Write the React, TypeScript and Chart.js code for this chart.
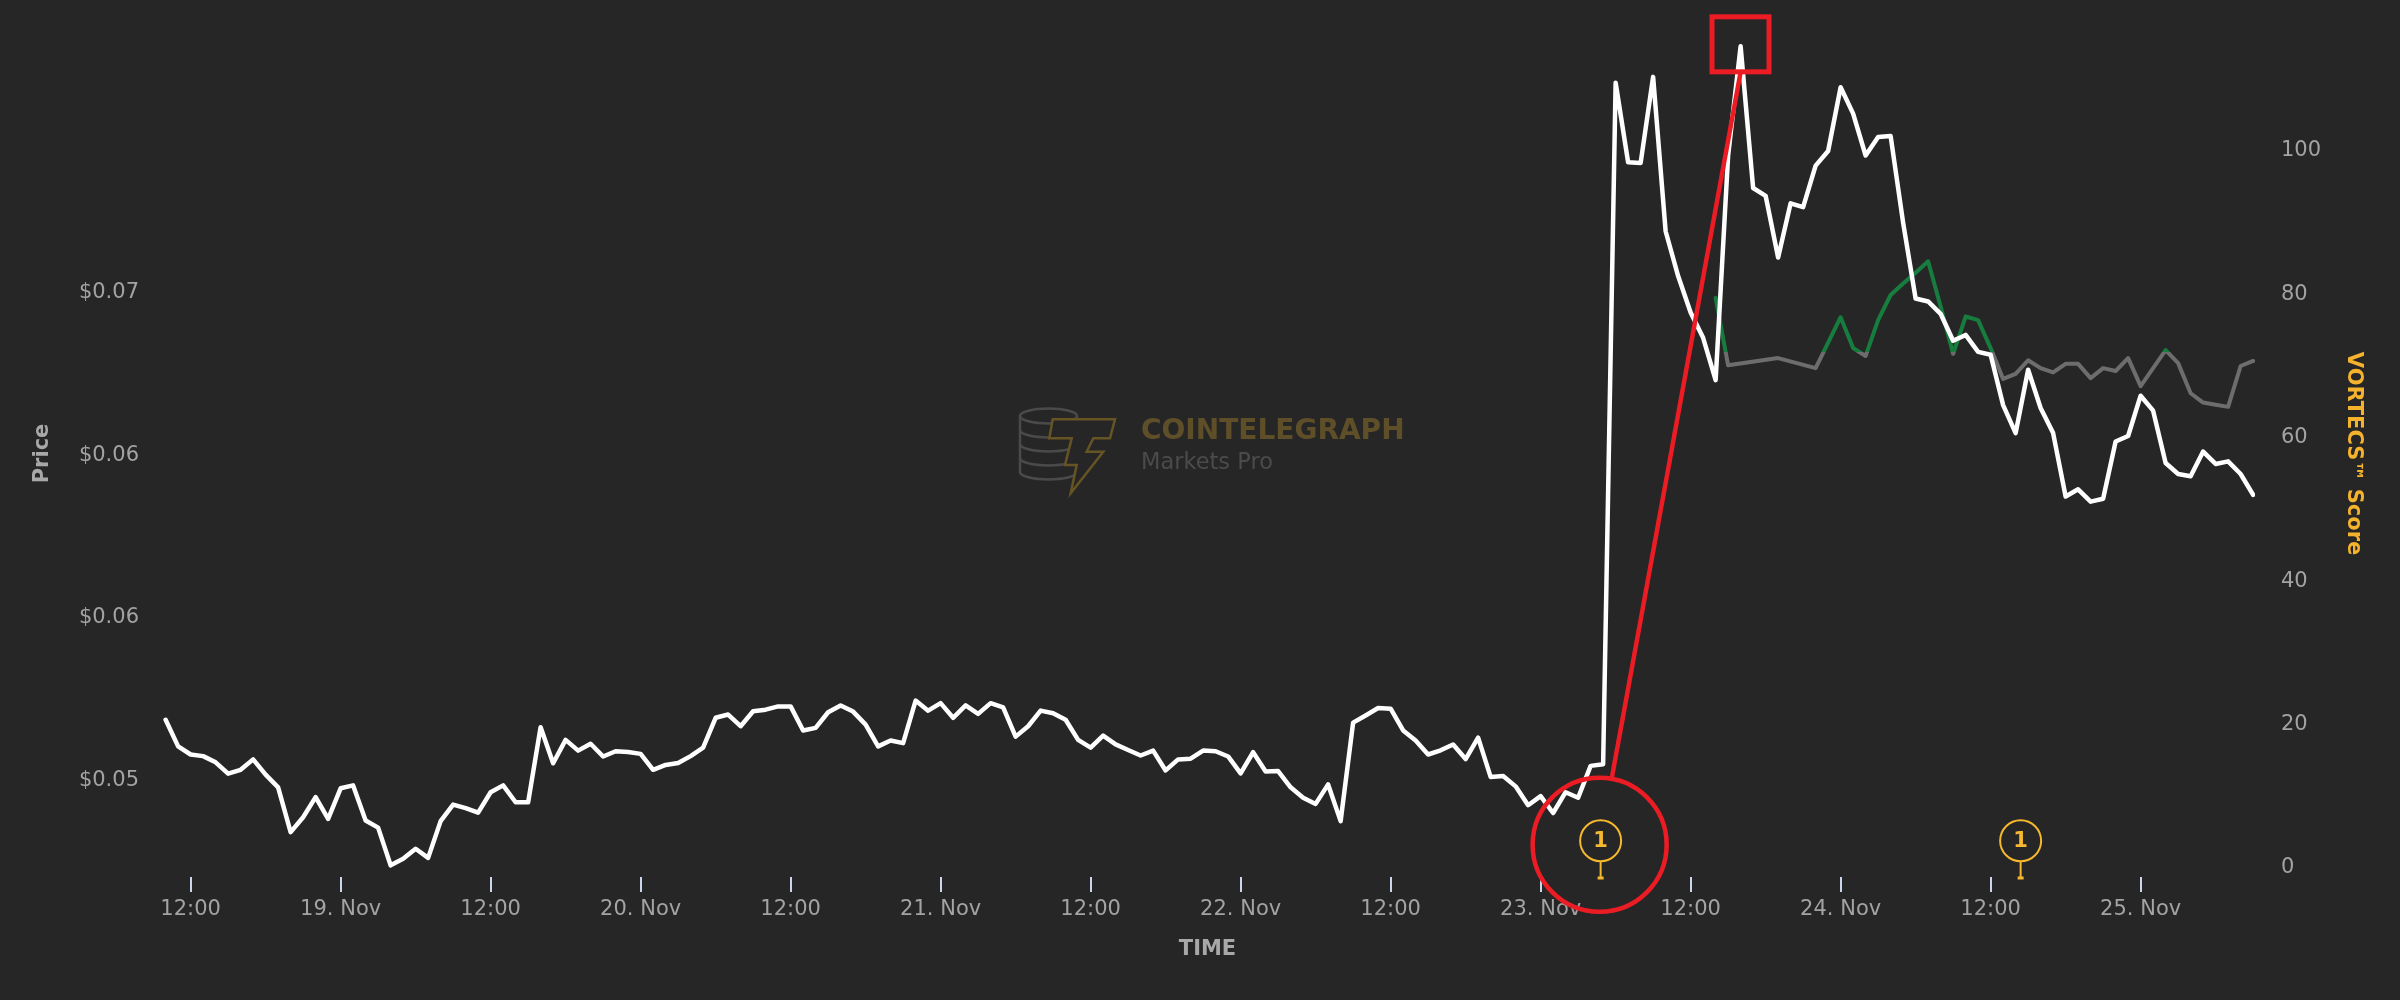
import { useEffect, useRef } from "react";
import { Chart, registerables } from "chart.js";

Chart.register(...registerables);

// ---------- data ----------
// hourly price points, first point at 18 Nov 10:00 (hours counted from 18 Nov 00:00)
const PRICE_START_HOUR = 10;
const PRICE = [
  0.05187, 0.05105, 0.0508, 0.05075, 0.05056, 0.05021, 0.05033, 0.05065, 0.05018, 0.04979,
  0.04841, 0.04887, 0.04949, 0.04882, 0.04976, 0.04985, 0.04877, 0.04855, 0.04739, 0.04759,
  0.0479, 0.04762, 0.04875, 0.04926, 0.04915, 0.04901, 0.04964, 0.04985, 0.04933, 0.04933,
  0.05164, 0.05053, 0.05125, 0.05092, 0.05113, 0.05074, 0.0509, 0.05088, 0.05082, 0.05033,
  0.05048, 0.05054, 0.05075, 0.05101, 0.05193, 0.05203, 0.05167, 0.05213, 0.05218, 0.05228,
  0.05228, 0.05154, 0.05162, 0.0521, 0.05231, 0.05212, 0.05172, 0.05105, 0.05123, 0.05115,
  0.05246, 0.05215, 0.05238, 0.05193, 0.05231, 0.05205, 0.05238, 0.05225, 0.05135, 0.05167,
  0.05215, 0.05207, 0.05187, 0.05125, 0.05101, 0.05138, 0.05111, 0.05094, 0.05077, 0.05092,
  0.05031, 0.05065, 0.05067, 0.05092, 0.0509, 0.05074, 0.05022, 0.05087, 0.05028, 0.05029,
  0.04979, 0.04947, 0.04928, 0.04988, 0.04875, 0.05178, 0.052, 0.05223, 0.05221, 0.05154,
  0.05123, 0.0508, 0.05093, 0.05111, 0.05066, 0.05132, 0.05011, 0.05014, 0.04982, 0.04924,
  0.04952, 0.049, 0.04964, 0.04947, 0.05045, 0.0505, 0.07147, 0.06902, 0.069, 0.07165,
  0.0669, 0.06552, 0.0644, 0.06362, 0.06232, 0.06923, 0.07259, 0.06823, 0.06799, 0.06609,
  0.06776, 0.06764, 0.06892, 0.06937, 0.07133, 0.07052, 0.06923, 0.0698, 0.06983, 0.06716,
  0.06483, 0.06474, 0.06436, 0.06353, 0.06371, 0.06319, 0.0631, 0.06155, 0.06069, 0.06264,
  0.06146, 0.06069, 0.05874, 0.05896, 0.05858, 0.05867, 0.06043, 0.0606, 0.06184, 0.06138,
  0.05977, 0.05943, 0.05936, 0.06012, 0.05974, 0.05982, 0.05943, 0.05879,
];

// VORTECS score (hours from 18 Nov 00:00)
const SCORE_HOURS = [
  134, 135, 139, 142, 144, 145, 146, 147, 148, 149, 150, 151, 152, 153, 154, 155, 156, 157, 158,
  159, 160, 161, 162, 163, 164, 165, 166, 167, 168, 169, 170, 171, 172, 173, 174, 175, 176, 177,
];
const SCORE = [
  79.5, 70.1, 71.1, 69.7, 76.8, 72.5, 71.4, 76.4, 79.9, 81.5, 83.0, 84.6, 78.3, 71.7, 76.9, 76.4,
  72.5, 68.2, 68.9, 70.8, 69.7, 69.1, 70.3, 70.3, 68.3, 69.7, 69.3, 71.1, 67.2, 69.7, 72.2, 70.4,
  66.2, 64.9, 64.6, 64.3, 70.0, 70.7,
];
const SCORE_THRESHOLD = 72;

// event flags
const FLAG_HOURS = [124.8, 158.4];
const FLAG_LABELS = ["1", "1"];

// axes
const X_TICK_HOURS = [12, 24, 36, 48, 60, 72, 84, 96, 108, 120, 132, 144, 156, 168];
const X_TICK_LABELS = [
  "12:00", "19. Nov", "12:00", "20. Nov", "12:00", "21. Nov", "12:00",
  "22. Nov", "12:00", "23. Nov", "12:00", "24. Nov", "12:00", "25. Nov",
];
const PRICE_TICKS = [0.05, 0.055, 0.06, 0.065];
const PRICE_TICK_LABELS = ["$0.05", "$0.06", "$0.06", "$0.07"];
const SCORE_TICKS = [0, 20, 40, 60, 80, 100];

const X_MIN = 9.55;
const X_MAX = 177.15;
const PRICE_MIN = 0.047031;
const PRICE_MAX = 0.073092;
const SCORE_MIN = -1.27;
const SCORE_MAX = 116.86;

// ---------- style ----------
const BG = "#262626";
const FONT = "'DejaVu Sans', sans-serif";
const LABEL_COLOR = "#a3a3a3";
const TITLE_COLOR = "#a8a8a8";
const VORTECS_COLOR = "#f5b22c";
const GREEN = "#177d3e";
const GRAY = "#6d6d6d";
const FLAG_COLOR = "#f5b82e";
const RED = "#ec1c24";

const bgPlugin = {
  id: "bg",
  beforeDraw(chart: any) {
    const { ctx, width, height } = chart;
    ctx.save();
    ctx.fillStyle = BG;
    ctx.fillRect(0, 0, width, height);
    ctx.restore();
  },
};

const watermarkPlugin = {
  id: "watermark",
  beforeDatasetsDraw(chart: any) {
    const { ctx, chartArea } = chart;
    const cx = (chartArea.left + chartArea.right) / 2;
    const cy = (chartArea.top + chartArea.bottom) / 2;
    ctx.save();
    ctx.translate(cx, cy);
    // coin stack
    ctx.strokeStyle = "#4a4a4a";
    ctx.lineWidth = 2.5;
    const ccx = -159;
    const rx = 28.5;
    const ry = 7.5;
    ctx.beginPath();
    ctx.ellipse(ccx, -37.5, rx, ry, 0, 0, Math.PI * 2);
    ctx.stroke();
    [-23.5, -9.5, 4.5, 18.5].forEach((yy) => {
      ctx.beginPath();
      ctx.ellipse(ccx, yy, rx, ry, 0, 0, Math.PI);
      ctx.stroke();
    });
    ctx.beginPath();
    ctx.moveTo(ccx - rx, -37.5);
    ctx.lineTo(ccx - rx, 18.5);
    ctx.moveTo(ccx + rx, -37.5);
    ctx.lineTo(ccx + rx, 18.5);
    ctx.stroke();
    // lightning T
    const pts = [
      [-154.8, -34.2], [-92.5, -34.2], [-97.5, -15.2], [-114.2, -15.2], [-120.8, -1.8],
      [-104.2, -1.8], [-136.8, 39.8], [-130.8, 11.5], [-142.5, 11.5], [-135.8, -15.2],
      [-158.2, -15.2],
    ];
    ctx.beginPath();
    pts.forEach(([x, y], i) => (i ? ctx.lineTo(x, y) : ctx.moveTo(x, y)));
    ctx.closePath();
    ctx.fillStyle = BG;
    ctx.fill();
    ctx.strokeStyle = "#665425";
    ctx.lineJoin = "miter";
    ctx.stroke();
    // text
    ctx.textAlign = "left";
    ctx.textBaseline = "alphabetic";
    ctx.fillStyle = "#5f4f29";
    ctx.font = `bold 28px ${FONT}`;
    ctx.fillText("COINTELEGRAPH", -66.5, -14.5);
    ctx.fillStyle = "#4b4b4b";
    ctx.font = `22.5px ${FONT}`;
    ctx.fillText("Markets Pro", -66.5, 15.5);
    ctx.restore();
  },
};

function flagGeom(chart: any, i: number) {
  const x = chart.scales.x.getPixelForValue(FLAG_HOURS[i]);
  const cy = chart.chartArea.bottom - 36.3;
  return { x, cy, r: 20.5 };
}

const overlayPlugin = {
  id: "overlay",
  afterDatasetsDraw(chart: any) {
    const { ctx, chartArea, scales } = chart;
    ctx.save();
    // flags
    FLAG_HOURS.forEach((_, i) => {
      const { x, cy, r } = flagGeom(chart, i);
      ctx.strokeStyle = FLAG_COLOR;
      ctx.fillStyle = FLAG_COLOR;
      ctx.lineWidth = 2;
      ctx.beginPath();
      ctx.moveTo(x, cy + r);
      ctx.lineTo(x, chartArea.bottom + 1);
      ctx.stroke();
      ctx.fillRect(x - 3, chartArea.bottom - 0.5, 6, 3);
      ctx.beginPath();
      ctx.arc(x, cy, r, 0, Math.PI * 2);
      ctx.stroke();
      ctx.font = `bold 21px ${FONT}`;
      ctx.textAlign = "center";
      ctx.textBaseline = "middle";
      ctx.fillText(FLAG_LABELS[i], x, cy + 1);
    });

    // red annotations
    const f = flagGeom(chart, 0);
    const ccx = f.x - 1;
    const ccy = f.cy + 4;
    const cr = 67;
    let maxI = 0;
    PRICE.forEach((v, i) => {
      if (v > PRICE[maxI]) maxI = i;
    });
    const px = scales.x.getPixelForValue(PRICE_START_HOUR + maxI);
    const py = scales.yPrice.getPixelForValue(PRICE[maxI]);
    ctx.strokeStyle = RED;
    ctx.lineWidth = 4.5;
    ctx.beginPath();
    ctx.arc(ccx, ccy, cr, 0, Math.PI * 2);
    ctx.stroke();
    const ex = px;
    const ey = py + 25.5;
    const dx = ex - ccx;
    const dy = ey - ccy;
    const len = Math.hypot(dx, dy);
    ctx.beginPath();
    ctx.moveTo(ccx + (dx / len) * cr, ccy + (dy / len) * cr);
    ctx.lineTo(ex, ey);
    ctx.stroke();
    ctx.lineWidth = 5;
    ctx.strokeRect(px - 28.6, py - 29.5, 57, 55);
    ctx.restore();
  },
};

const noPad = (s: any) => {
  s.paddingTop = 0;
  s.paddingBottom = 0;
  s.paddingLeft = 0;
  s.paddingRight = 0;
};

export default function App() {
  const ref = useRef<HTMLCanvasElement>(null);

  useEffect(() => {
    document.body.style.margin = "0";
    document.body.style.background = BG;
    const canvas = ref.current!;
    const chart = new Chart(canvas, {
      type: "line",
      data: {
        datasets: [
          {
            label: "Price",
            data: PRICE.map((v, i) => ({ x: PRICE_START_HOUR + i, y: v })),
            yAxisID: "yPrice",
            borderColor: "#ffffff",
            borderWidth: 4.5,
            pointRadius: 0,
            tension: 0,
            borderJoinStyle: "round",
            borderCapStyle: "round",
          },
          {
            label: "VORTECS™ Score",
            data: SCORE_HOURS.map((h, i) => ({ x: h, y: SCORE[i] })),
            yAxisID: "yScore",
            borderColor: (c: any) => {
              const ch = c.chart;
              const area = ch.chartArea;
              if (!area || !ch.scales.yScore) return GRAY;
              const yp = ch.scales.yScore.getPixelForValue(SCORE_THRESHOLD);
              const g = ch.ctx.createLinearGradient(0, area.top, 0, area.bottom);
              const s = Math.min(1, Math.max(0, (yp - area.top) / (area.bottom - area.top)));
              g.addColorStop(0, GREEN);
              g.addColorStop(s, GREEN);
              g.addColorStop(s, GRAY);
              g.addColorStop(1, GRAY);
              return g;
            },
            borderWidth: 4,
            pointRadius: 0,
            tension: 0,
            borderJoinStyle: "round",
            borderCapStyle: "round",
          },
        ],
      },
      options: {
        responsive: false,
        animation: false,
        events: [],
        layout: { padding: { top: 30, left: 0, right: 0, bottom: 0 } },
        plugins: { legend: { display: false }, tooltip: { enabled: false } },
        scales: {
          x: {
            type: "linear",
            position: "bottom",
            min: X_MIN,
            max: X_MAX,
            afterBuildTicks: (s: any) => {
              s.ticks = X_TICK_HOURS.map((v) => ({ value: v }));
            },
            afterFit: (s: any) => {
              s.height = 123;
              noPad(s);
            },
            grid: {
              display: true,
              drawOnChartArea: false,
              drawTicks: true,
              tickLength: 15,
              tickColor: "#ccd6eb",
              tickWidth: 2,
              color: "#ccd6eb",
              lineWidth: 2,
            },
            border: { display: false },
            ticks: {
              autoSkip: false,
              maxRotation: 0,
              minRotation: 0,
              padding: 5,
              color: LABEL_COLOR,
              font: { family: FONT, size: 21 },
              callback: (_v: any, i: number) => X_TICK_LABELS[i],
            },
            title: {
              display: true,
              text: "TIME",
              color: TITLE_COLOR,
              font: { family: FONT, size: 21, weight: "bold" },
              padding: { top: 0, bottom: 38 },
            },
          },
          yPrice: {
            type: "linear",
            position: "left",
            min: PRICE_MIN,
            max: PRICE_MAX,
            afterBuildTicks: (s: any) => {
              s.ticks = PRICE_TICKS.map((v) => ({ value: v }));
            },
            afterFit: (s: any) => {
              s.width = 160;
              noPad(s);
            },
            grid: { display: false, drawTicks: false },
            border: { display: false },
            ticks: {
              padding: 21,
              color: LABEL_COLOR,
              font: { family: FONT, size: 21 },
              callback: (_v: any, i: number) => PRICE_TICK_LABELS[i],
            },
            title: {
              display: true,
              text: "Price",
              color: TITLE_COLOR,
              font: { family: FONT, size: 21, weight: "bold" },
              padding: { top: 30.4, bottom: 0 },
            },
          },
          yScore: {
            type: "linear",
            position: "right",
            min: SCORE_MIN,
            max: SCORE_MAX,
            afterBuildTicks: (s: any) => {
              s.ticks = SCORE_TICKS.map((v) => ({ value: v }));
            },
            afterFit: (s: any) => {
              s.width = 145;
              noPad(s);
            },
            grid: { display: false, drawTicks: false },
            border: { display: false },
            ticks: {
              padding: 26,
              color: LABEL_COLOR,
              font: { family: FONT, size: 21 },
              callback: (v: any) => String(v),
            },
            title: {
              display: true,
              text: "VORTECS™ Score",
              color: VORTECS_COLOR,
              font: { family: FONT, size: 21, weight: "bold" },
              padding: { top: 34.4, bottom: 0 },
            },
          },
        },
      },
      plugins: [bgPlugin, watermarkPlugin, overlayPlugin],
    } as any);
    return () => chart.destroy();
  }, []);

  return (
    <div style={{ width: 2400, height: 1000, background: BG }}>
      <canvas ref={ref} width={2400} height={1000} style={{ display: "block", width: 2400, height: 1000 }} />
    </div>
  );
}
